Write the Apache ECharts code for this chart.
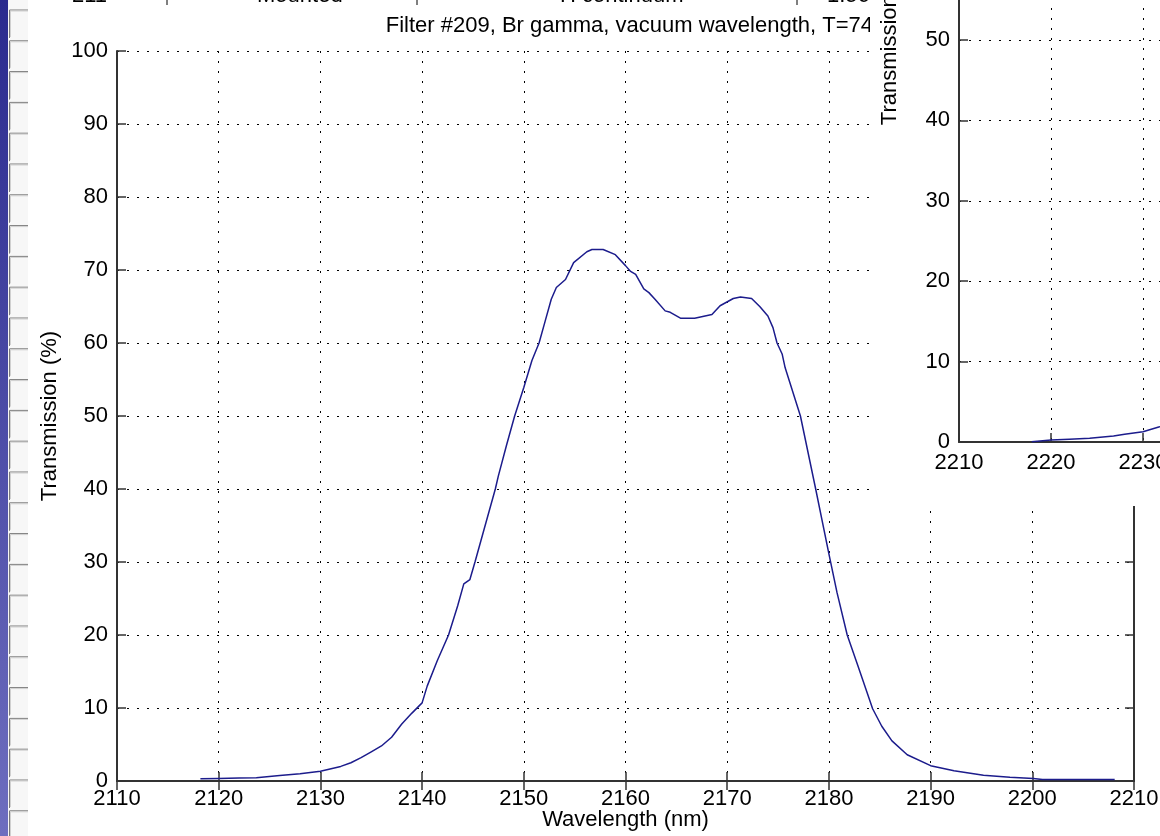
<!DOCTYPE html>
<html>
<head>
<meta charset="utf-8">
<title>Filter #209, Br gamma</title>
<script src="https://cdn.jsdelivr.net/npm/echarts@6/dist/echarts.min.js"></script>
<style>
html, body { margin: 0; padding: 0; background: #fff; }
#chart { width: 1160px; height: 836px; }
</style>
</head>
<body>
<div id="chart"></div>
<script>
// main filter curve
var wavelength = [2118.2, 2120, 2122, 2123.7, 2126, 2128, 2130, 2132, 2133, 2134, 2135, 2136, 2137, 2138, 2139,
    2140, 2140.5, 2141.5, 2142.6, 2143.5, 2144.1, 2144.7, 2145.2, 2146, 2147.2, 2147.5, 2148.3, 2149.1,
    2150, 2150.8, 2151.5, 2152.1, 2152.7, 2153.2, 2154.1, 2154.9, 2156.2, 2156.7, 2157.8, 2159,
    2160, 2160.5, 2161, 2161.8, 2162.3, 2162.9, 2163.9, 2164.4, 2165.4, 2166.8, 2168.5, 2169.3,
    2170.6, 2171.3, 2172.4, 2173.2, 2174, 2174.5, 2174.9, 2175.4, 2175.7, 2177.2, 2178.7,
    2180, 2180.8, 2181.8, 2182.8, 2184.3, 2185.2, 2186.2, 2187.7, 2190, 2192.3, 2195.2, 2197.8,
    2200.1, 2201, 2208.1];
var transmission = [0.3, 0.35, 0.4, 0.45, 0.75, 1.0, 1.35, 2.0, 2.5, 3.2, 4.0, 4.8, 6.0, 7.8, 9.3,
    10.7, 13, 16.5, 20, 24, 27, 27.6, 30, 34, 40, 41.8, 46, 50,
    53.9, 57.6, 60, 63, 66, 67.6, 68.7, 71, 72.5, 72.8, 72.8, 72.1,
    70.6, 69.8, 69.4, 67.4, 66.9, 66, 64.4, 64.2, 63.4, 63.4, 63.9, 65.1,
    66.1, 66.3, 66.1, 65, 63.7, 62.1, 60, 58.5, 56.6, 50, 40,
    31.1, 25.8, 20, 16, 9.9, 7.5, 5.5, 3.6, 2.1, 1.4, 0.8, 0.5,
    0.33, 0.2, 0.2];

// the other figure window lying on top (only its corner shows)
var wavelength2 = [2217.9, 2220, 2222, 2224.2, 2226.8, 2228, 2230, 2231.8, 2233];
var transmission2 = [0.04, 0.25, 0.35, 0.46, 0.75, 0.95, 1.28, 1.9, 2.4];

var headerCells = ['211', 'Mounted', 'H continuum', '1.560'];
var headerX = [72, 257, 560, 827];

var FONT = "'Liberation Sans', Arial, Helvetica, sans-serif";
var AXIS = '#333';

function pairs(xs, ys) {
    return xs.map(function(x, i) { return [x, ys[i]]; });
}

var dotted = { color: '#000', width: 1, type: [2, 8] };
var tickStyle = { show: true, inside: true, length: 9, lineStyle: { color: AXIS, width: 1.5 } };
var label = { color: '#000', fontSize: 22, fontFamily: FONT, formatter: function(v) { return String(v); } };

var graphics = [
    { type: 'rect', shape: { x: 0, y: 0, width: 8, height: 836 }, z: 1,
      style: { fill: new echarts.graphic.LinearGradient(0, 0, 0, 1, [
          { offset: 0, color: '#2a2a8e' }, { offset: 1, color: '#6e6ebf' }]) } },
    { type: 'rect', shape: { x: 8, y: 0, width: 20, height: 836 }, z: 1, style: { fill: '#f7f7f7' } }
];
for (var i = 0; i < 28; i++) {
    var t = 10 + i * 30.8;
    graphics.push({ type: 'polyline', z: 1, shape: { points: [[9.5, t + 28], [9.5, t], [28, t]] },
        style: { stroke: '#7a7a7a', lineWidth: 1, fill: null } });
    graphics.push({ type: 'polyline', z: 1, shape: { points: [[10.5, t + 27], [10.5, t + 1], [28, t + 1]] },
        style: { stroke: '#d0d0d0', lineWidth: 1, fill: null } });
}
// bottom edge of the table row behind the figure
headerCells.forEach(function(s, i) {
    graphics.push({ type: 'text', x: headerX[i], y: 7, z: 1,
        style: { text: s, fill: '#000', font: '22px ' + FONT, verticalAlign: 'bottom' } });
});
[167, 417, 797].forEach(function(x) {
    graphics.push({ type: 'line', z: 1, shape: { x1: x, y1: 0, x2: x, y2: 5 }, style: { stroke: '#000', lineWidth: 1 } });
});
graphics.push({ type: 'text', x: 873, y: 15, z: 1,
    style: { text: 'Filter #209, Br gamma, vacuum wavelength, T=74', fill: '#000', font: '22px ' + FONT,
             align: 'right', verticalAlign: 'top' } });
// white figure window covering the top right corner
graphics.push({ type: 'rect', z: 50, shape: { x: 870, y: 0, width: 290, height: 506 }, style: { fill: '#fff' } });

var option = {
    animation: false,
    backgroundColor: '#fff',
    textStyle: { fontFamily: FONT },
    graphic: graphics,
    grid: [
        { left: 117, top: 51, width: 1017, height: 730, outerBoundsMode: 'none', containLabel: false },
        { left: 959, top: -362, width: 460, height: 804, outerBoundsMode: 'none', containLabel: false }
    ],
    xAxis: [{
        gridIndex: 0, type: 'value', min: 2110, max: 2210, interval: 10, position: 'bottom',
        axisLine: { lineStyle: { color: AXIS, width: 2 } },
        axisTick: tickStyle,
        axisLabel: Object.assign({ margin: 7 }, label),
        splitLine: { show: true, lineStyle: dotted },
        name: 'Wavelength (nm)', nameLocation: 'middle', nameGap: 28, nameMoveOverlap: false,
        nameTextStyle: { color: '#000', fontSize: 22, fontFamily: FONT }
    }, {
        gridIndex: 0, type: 'value', min: 2110, max: 2210, interval: 10, position: 'top',
        axisLine: { lineStyle: { color: AXIS, width: 2 } },
        axisTick: tickStyle, axisLabel: { show: false }, splitLine: { show: false }
    }, {
        gridIndex: 1, type: 'value', min: 2210, max: 2260, interval: 10, position: 'bottom', z: 60,
        axisLine: { lineStyle: { color: AXIS, width: 2 } },
        axisTick: tickStyle,
        axisLabel: Object.assign({ margin: 10 }, label),
        splitLine: { show: true, lineStyle: dotted }
    }],
    yAxis: [{
        gridIndex: 0, type: 'value', min: 0, max: 100, interval: 10, position: 'left',
        axisLine: { show: true, lineStyle: { color: AXIS, width: 2 } },
        axisTick: tickStyle,
        axisLabel: Object.assign({ margin: 9 }, label),
        splitLine: { show: true, lineStyle: dotted },
        name: 'Transmission (%)', nameLocation: 'middle', nameGap: 56, nameMoveOverlap: false,
        nameTextStyle: { color: '#000', fontSize: 22, fontFamily: FONT }
    }, {
        gridIndex: 0, type: 'value', min: 0, max: 100, interval: 10, position: 'right',
        axisLine: { show: true, lineStyle: { color: AXIS, width: 2 } },
        axisTick: tickStyle, axisLabel: { show: false }, splitLine: { show: false }
    }, {
        gridIndex: 1, type: 'value', min: 0, max: 100, interval: 10, position: 'left', z: 60,
        axisLine: { show: true, lineStyle: { color: AXIS, width: 2 } },
        axisTick: tickStyle,
        axisLabel: Object.assign({ margin: 9 }, label),
        splitLine: { show: true, lineStyle: dotted },
        name: 'Transmission (%)', nameLocation: 'middle', nameGap: 58, nameMoveOverlap: false,
        nameTextStyle: { color: '#000', fontSize: 22, fontFamily: FONT }
    }],
    series: [{
        type: 'line', xAxisIndex: 0, yAxisIndex: 0,
        data: pairs(wavelength, transmission),
        showSymbol: false, symbol: 'none',
        lineStyle: { color: '#1c1c8c', width: 1.5 }
    }, {
        type: 'line', xAxisIndex: 2, yAxisIndex: 2, z: 60,
        data: pairs(wavelength2, transmission2),
        showSymbol: false, symbol: 'none',
        lineStyle: { color: '#1c1c8c', width: 1.5 }
    }]
};

var myChart = echarts.init(document.getElementById('chart'));
myChart.setOption(option);
</script>
</body>
</html>
